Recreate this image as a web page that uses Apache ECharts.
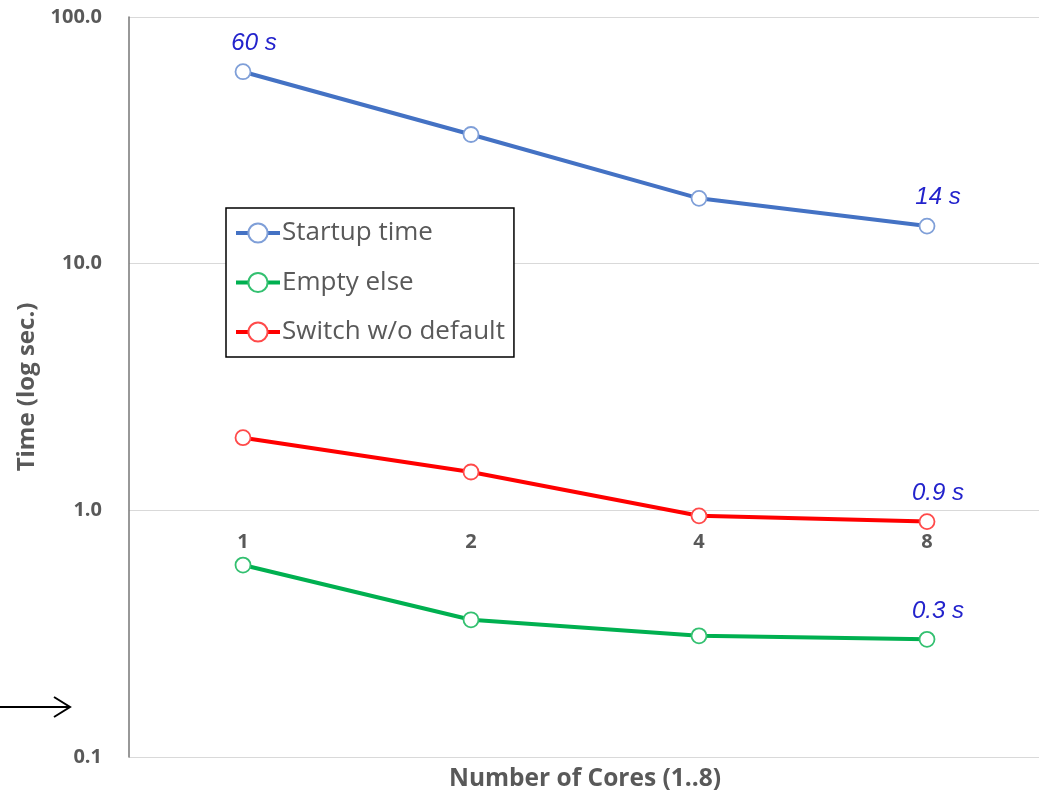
<!DOCTYPE html>
<html>
<head>
<meta charset="utf-8">
<script src="https://cdn.jsdelivr.net/npm/echarts@6/dist/echarts.min.js"></script>
<style>
html,body{margin:0;padding:0;background:#fff;}
#chart{width:1039px;height:794px;}
</style>
</head>
<body>
<div id="chart"></div>
<script>
const categories = ['1', '2', '4', '8'];
const startupTime = [60, 33.4, 18.4, 14.2];
const emptyElse = [0.6, 0.36, 0.31, 0.30];
const switchNoDefault = [1.97, 1.43, 0.95, 0.9];
const startupLabels = ['60 s', '', '', '14 s'];
const emptyLabels = ['', '', '', '0.3 s'];
const switchLabels = ['', '', '', '0.9 s'];
const yTickLabels = {0.1: '0.1', 1: '1.0', 10: '10.0', 100: '100.0'};

const chart = echarts.init(document.getElementById('chart'));
const FONT = '"Open Sans", "Liberation Sans", sans-serif';

function mkSeries(name, data, labels, color, border) {
  return {
    name: name,
    type: 'line',
    data: data,
    symbol: 'circle',
    symbolSize: 15,
    lineStyle: {color: color, width: 4},
    itemStyle: {color: '#ffffff', borderColor: border, borderWidth: 1.8},
    label: {
      show: true,
      position: 'top',
      distance: 8,
      offset: [11, 0],
      formatter: p => labels[p.dataIndex],
      color: '#2323cc',
      fontStyle: 'italic',
      fontSize: 24,
      fontFamily: '"Liberation Sans", Arial, sans-serif'
    },
    emphasis: {disabled: true},
    animation: false
  };
}

chart.setOption({
  animation: false,
  grid: {left: 129, top: 17, width: 912, height: 740, containLabel: false, outerBoundsMode: 'none'},
  legend: {
    orient: 'vertical',
    left: 226,
    top: 208,
    padding: [12, 9, 12, 8],
    itemGap: 23.5,
    itemWidth: 44,
    itemHeight: 24,
    borderColor: '#000',
    borderWidth: 1.5,
    backgroundColor: '#fff',
    lineStyle: {width: 4},
    textStyle: {color: '#595959', fontSize: 26, lineHeight: 24, fontFamily: FONT, padding: [0, 0, 0, -3]},
    data: ['Startup time', 'Empty else', 'Switch w/o default']
  },
  xAxis: {
    type: 'category',
    data: categories,
    offset: -247,
    axisLine: {show: false},
    axisTick: {show: false},
    axisLabel: {color: '#595959', fontWeight: 'bold', fontSize: 20, fontFamily: FONT, margin: 22},
    name: 'Number of Cores (1..8)',
    nameLocation: 'middle',
    nameGap: 257,
    nameTextStyle: {color: '#595959', fontWeight: 'bold', fontSize: 24.5, fontFamily: FONT}
  },
  yAxis: {
    type: 'log',
    logBase: 10,
    min: 0.1,
    max: 100,
    axisLine: {show: true, lineStyle: {color: '#767676', width: 1.5}},
    axisTick: {show: false},
    splitLine: {show: true, lineStyle: {color: '#d9d9d9', width: 1.2}},
    axisLabel: {
      color: '#595959', fontWeight: 'bold', fontSize: 20, fontFamily: FONT, margin: 27,
      formatter: v => yTickLabels[Math.round(v * 10) / 10] || v.toFixed(1)
    },
    name: 'Time (log sec.)',
    nameLocation: 'middle',
    nameGap: 90,
    nameTextStyle: {color: '#595959', fontWeight: 'bold', fontSize: 24, fontFamily: FONT}
  },
  series: [
    mkSeries('Startup time', startupTime, startupLabels, '#4472c4', '#7f9fd8'),
    mkSeries('Empty else', emptyElse, emptyLabels, '#00b050', '#33c070'),
    mkSeries('Switch w/o default', switchNoDefault, switchLabels, '#ff0000', '#ff4a4a')
  ],
  graphic: [
    {type: 'line', shape: {x1: 0, y1: 707, x2: 70, y2: 707}, style: {stroke: '#000', lineWidth: 2}},
    {type: 'polyline', shape: {points: [[54, 697], [70, 707], [54, 717]]}, style: {stroke: '#000', lineWidth: 2, fill: null}}
  ]
});
</script>
</body>
</html>
